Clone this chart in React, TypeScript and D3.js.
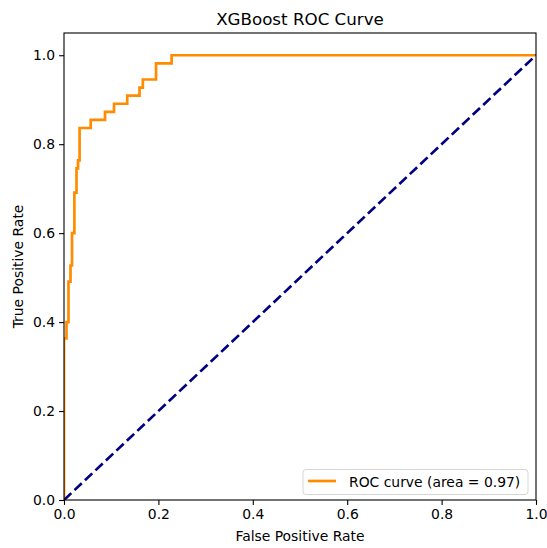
import React, { useEffect, useRef } from 'react';
import * as d3 from 'd3';

// ROC points, unique corners, drawn as step-after
const fpr = [0, 0, 0.0053, 0.0095, 0.0138, 0.017, 0.022, 0.0265, 0.0297, 0.033, 0.0566, 0.0869, 0.106, 0.134, 0.16, 0.167, 0.195, 0.228, 1.0];
const tpr = [0, 0.3636, 0.4, 0.4909, 0.5273, 0.6, 0.6909, 0.7455, 0.7636, 0.8364, 0.8545, 0.8727, 0.8909, 0.9091, 0.9273, 0.9455, 0.9818, 1.0, 1.0];
const chanceLine = [0, 1];
const tickValues = [0, 0.2, 0.4, 0.6, 0.8, 1.0];
const aucValue = 0.97;

const W = 547;
const H = 548;
const FONT = 'DejaVu Sans, sans-serif';

export default function App() {
  const svgRef = useRef<SVGSVGElement>(null);

  useEffect(() => {
    const svg = d3.select(svgRef.current);
    svg.selectAll('*').remove();

    const margin = { top: 33, right: 11, bottom: 48, left: 64 };
    const iw = W - margin.left - margin.right;
    const ih = H - margin.top - margin.bottom;

    const x = d3.scaleLinear().domain([0, 1]).range([0, iw]);
    const y = d3.scaleLinear().domain([0, 1.05]).range([ih, 0]);

    svg.append('rect').attr('width', W).attr('height', H).attr('fill', '#fff');

    const g = svg.append('g').attr('transform', `translate(${margin.left},${margin.top})`);

    // clip so the lines sit inside the axes like matplotlib
    g.append('defs').append('clipPath').attr('id', 'plot-clip')
      .append('rect').attr('x', 0).attr('y', 0).attr('width', iw).attr('height', ih);

    const plot = g.append('g').attr('clip-path', 'url(#plot-clip)');

    const roc = fpr.map((f, i) => [f, tpr[i]] as [number, number]);
    const line = d3.line<[number, number]>()
      .x(d => x(d[0]))
      .y(d => y(d[1]))
      .curve(d3.curveStepAfter);

    plot.append('path')
      .datum(roc)
      .attr('d', line)
      .attr('fill', 'none')
      .attr('stroke', '#ff8c00')
      .attr('stroke-width', 2.7);

    plot.append('path')
      .datum(chanceLine.map(v => [v, v] as [number, number]))
      .attr('d', d3.line<[number, number]>().x(d => x(d[0])).y(d => y(d[1])))
      .attr('fill', 'none')
      .attr('stroke', '#000080')
      .attr('stroke-width', 2.7)
      .attr('stroke-dasharray', '10,4.4');

    // axes
    const xAxis = d3.axisBottom(x).tickValues(tickValues).tickFormat(d3.format('.1f')).tickSize(4.9).tickPadding(4);
    const yAxis = d3.axisLeft(y).tickValues(tickValues).tickFormat(d3.format('.1f')).tickSize(4.9).tickPadding(4);

    const gx = g.append('g').attr('transform', `translate(0,${ih})`).call(xAxis);
    const gy = g.append('g').call(yAxis);
    [gx, gy].forEach(ax => {
      ax.select('.domain').remove();
      ax.selectAll('line').attr('stroke', '#000').attr('stroke-width', 1.1);
      ax.selectAll('text').attr('font-family', FONT).attr('font-size', 13.9).attr('fill', '#000');
    });

    // frame
    g.append('rect')
      .attr('width', iw).attr('height', ih)
      .attr('fill', 'none').attr('stroke', '#000').attr('stroke-width', 1.1);

    // title + labels
    svg.append('text')
      .attr('x', margin.left + iw / 2).attr('y', 25)
      .attr('text-anchor', 'middle')
      .attr('font-family', FONT).attr('font-size', 16.7)
      .text('XGBoost ROC Curve');

    svg.append('text')
      .attr('x', margin.left + iw / 2).attr('y', 541)
      .attr('text-anchor', 'middle')
      .attr('font-family', FONT).attr('font-size', 13.9)
      .text('False Positive Rate');

    svg.append('text')
      .attr('transform', `translate(23,${margin.top + ih / 2}) rotate(-90)`)
      .attr('text-anchor', 'middle')
      .attr('font-family', FONT).attr('font-size', 13.9)
      .text('True Positive Rate');

    // legend
    const legend = svg.append('g').attr('transform', 'translate(303,469.5)');
    legend.append('rect')
      .attr('width', 225).attr('height', 25)
      .attr('rx', 3)
      .attr('fill', '#fff').attr('fill-opacity', 0.8)
      .attr('stroke', '#d6d6d6').attr('stroke-width', 1);
    legend.append('line')
      .attr('x1', 5).attr('x2', 33).attr('y1', 11.5).attr('y2', 11.5)
      .attr('stroke', '#ff8c00').attr('stroke-width', 2.7);
    legend.append('text')
      .attr('x', 46).attr('y', 17)
      .attr('font-family', FONT).attr('font-size', 13.9)
      .text(`ROC curve (area = ${aucValue.toFixed(2)})`);
  }, []);

  return (
    <svg ref={svgRef} width={W} height={H} style={{ position: 'absolute', left: 0, top: 0 }}></svg>
  );
}
